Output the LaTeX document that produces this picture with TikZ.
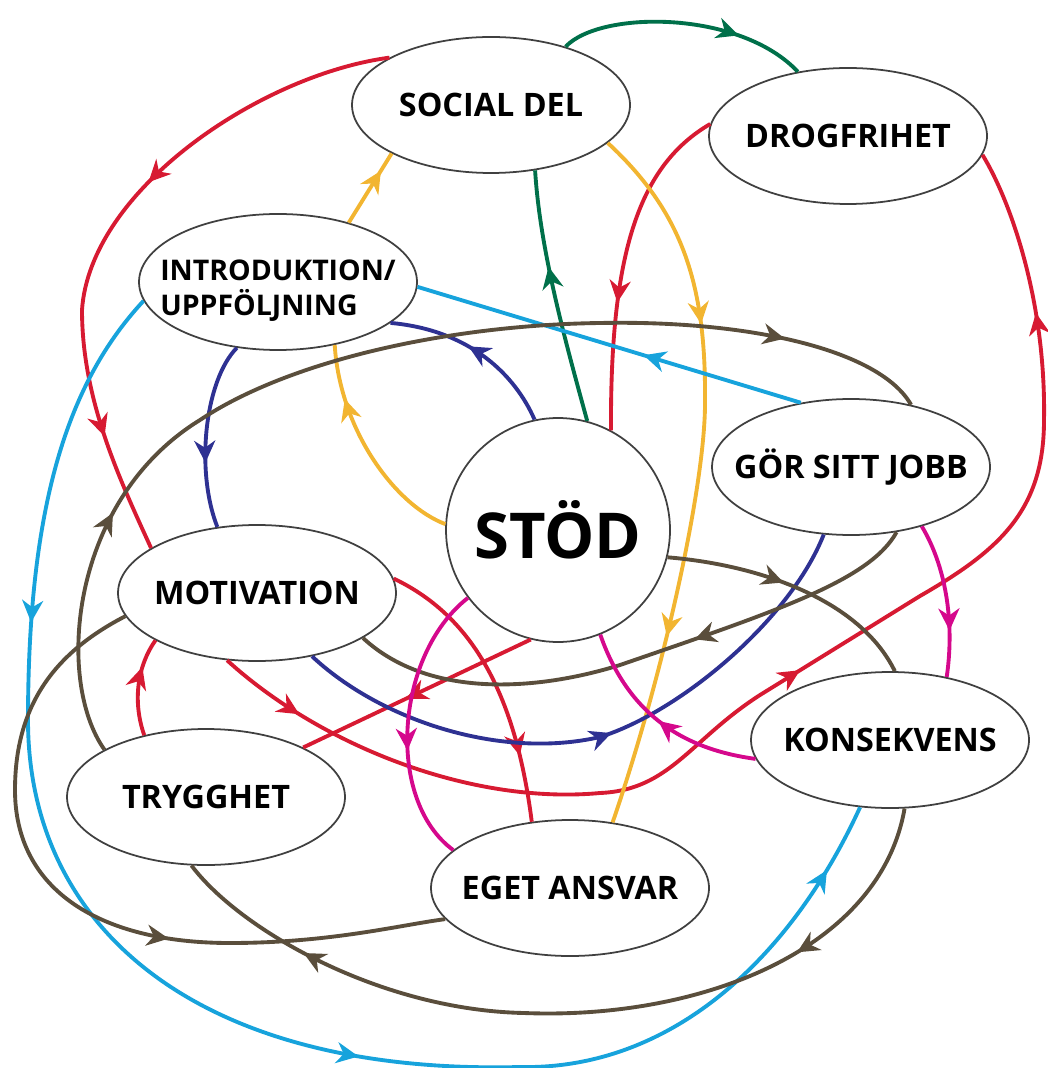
\documentclass[tikz,border=0pt]{standalone}
\usepackage{fontspec}
\setmainfont{Open Sans}
\usetikzlibrary{arrows.meta,shapes.geometric,decorations.markings}
\definecolor{rd}{HTML}{D71A32}
\definecolor{yl}{HTML}{F2B531}
\definecolor{gn}{HTML}{00704A}
\definecolor{nv}{HTML}{2E3192}
\definecolor{cy}{HTML}{17A3DC}
\definecolor{br}{HTML}{5A4E3C}
\definecolor{mg}{HTML}{D5088C}
\newcommand{\Soc}{SOCIAL DEL}
\newcommand{\Drog}{DROGFRIHET}
\newcommand{\Intro}{INTRODUKTION/\\UPPFÖLJNING}
\newcommand{\Stod}{STÖD}
\newcommand{\Gor}{GÖR SITT JOBB}
\newcommand{\Mot}{MOTIVATION}
\newcommand{\Kons}{KONSEKVENS}
\newcommand{\Tryg}{TRYGGHET}
\newcommand{\Eget}{EGET ANSVAR}

\begin{document}
\begin{tikzpicture}[x=0.1mm, y=-0.1mm, line width=1.1pt,
    box/.style={ellipse, draw=black!75, line width=0.5pt, fill=white,
        minimum width=27.8mm, minimum height=13.6mm, inner xsep=-4mm,
        font=\fontsize{9.2}{10}\selectfont\bfseries},
    arr/.style={postaction={decorate, decoration={markings,
        mark=at position #1 with {\arrow{Stealth[length=2.2mm, width=2.1mm, inset=0.7mm]}}}}}]
    \useasboundingbox (0,0) rectangle (1048,1068);
    \node[box] (soc) at (491,105) {\Soc};
    \node[box] (drog) at (848,136) {\Drog};
    \node[box, label={[align=left, yshift=-0.9mm, font=\fontsize{8.1}{10}\selectfont\bfseries]center:\Intro}]
        (intro) at (278,282) {};
    \node[circle, draw=black!75, line width=0.5pt, fill=white, minimum size=22.4mm, inner sep=0pt,
        font=\fontsize{18}{20}\selectfont\bfseries] (stod) at (558,530) {\Stod};
    \node[box] (gor) at (851,467) {\Gor};
    \node[box] (mot) at (257,593) {\Mot};
    \node[box] (kons) at (890,740) {\Kons};
    \node[box] (tryg) at (206,797) {\Tryg};
    \node[box] (eget) at (570,888) {\Eget};
    % red
    \draw[rd, arr=0.41, arr=0.82] (soc.155) .. controls (260,75) and (90,190) .. (82,310)
        .. controls (82,400) and (120,480) .. (mot.157);
    \draw[rd, arr=0.62] (drog.175) .. controls (640,165) and (610,250) .. (stod.62);
    \draw[rd, arr=0.07, arr=0.5, arr=0.87] (mot.-114) .. controls (320,745) and (470,805) .. (600,793)
        .. controls (670,790) and (690,740) .. (760,695) -- (920,596)
        .. controls (1000,550) and (1044,510) .. (1044,420)
        .. controls (1046,300) and (1010,200) .. (drog.-8);
    \draw[rd, arr=0.77] (mot.6) .. controls (470,615) and (515,690) .. (eget.120);
    \draw[rd, arr=0.55] (stod.-104) -- (tryg.27);
    \draw[rd, arr=0.7] (tryg.135) .. controls (132,700) and (138,665) .. (mot.205);
    % yellow
    \draw[yl, arr=0.75] (intro.40) -- (soc.206);
    \draw[yl, arr=0.75] (stod.177) .. controls (395,505) and (340,430) .. (intro.-48);
    \draw[yl, arr=0.29, arr=0.73] (soc.-18) .. controls (680,210) and (706,280) .. (705,400)
        .. controls (706,480) and (665,670) .. (eget.57);
    % green
    \draw[gn, arr=0.72] (soc.38) .. controls (600,10) and (740,10) .. (drog.128);
    \draw[gn, arr=0.62] (stod.75) .. controls (565,340) and (540,250) .. (soc.-56);
    % navy
    \draw[nv, arr=0.65] (intro.-122) .. controls (205,380) and (195,470) .. (mot.121);
    \draw[nv, arr=0.55] (stod.102) .. controls (515,375) and (470,330) .. (intro.-20);
    \draw[nv, arr=0.52] (mot.-49) .. controls (380,720) and (500,760) .. (600,737)
        .. controls (680,712) and (790,620) .. (gor.-112);
    % cyan
    \draw[cy, arr=0.41] (gor.128) -- (intro.-2);
    \draw[cy, arr=0.22, arr=0.61, arr=0.955] (intro.188) .. controls (70,380) and (28,500) .. (28,720)
        .. controls (28,930) and (200,1075) .. (520,1067)
        .. controls (670,1070) and (790,960) .. (kons.-114);
    % brown
    \draw[br, arr=0.22, arr=0.87] (tryg.155) .. controls (55,680) and (70,500) .. (200,420)
        .. controls (290,360) and (450,325) .. (600,323)
        .. controls (750,320) and (880,350) .. (gor.46);
    \draw[br, arr=0.4] (gor.-55) .. controls (870,580) and (780,610) .. (620,665)
        .. controls (540,690) and (430,700) .. (mot.-23);
    \draw[br, arr=0.45] (stod.-14) .. controls (760,565) and (860,600) .. (kons.86);
    \draw[br, arr=0.62] (mot.190) .. controls (60,650) and (15,700) .. (15,790)
        .. controls (15,890) and (100,943) .. (230,943)
        .. controls (330,943) and (400,925) .. (eget.194);
    \draw[br, arr=0.22, arr=0.83] (kons.-78) .. controls (880,950) and (700,1020) .. (524,1013)
        .. controls (380,1010) and (240,930) .. (tryg.-102);
    % magenta
    \draw[mg, arr=0.6] (stod.-143) .. controls (395,655) and (385,800) .. (eget.162);
    \draw[mg, arr=0.5] (kons.188) .. controls (690,750) and (630,720) .. (stod.-68);
    \draw[mg, arr=0.7] (gor.-40) .. controls (945,565) and (955,620) .. (kons.48);
\end{tikzpicture}
\end{document}
